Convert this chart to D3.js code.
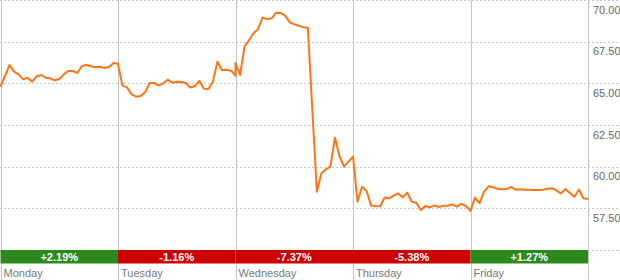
<!DOCTYPE html>
<html>
<head>
<meta charset="utf-8">
<script src="https://cdn.jsdelivr.net/npm/d3@7"></script>
<style>
  body { margin: 0; background: #fff; }
  svg { display: block; font-family: "Liberation Sans", Arial, sans-serif; }
</style>
</head>
<body>
<svg id="chart"></svg>
<script>
// weekly price chart, 15 minute steps, one array per trading day
const days = ["Monday", "Tuesday", "Wednesday", "Thursday", "Friday"];
const dayChange = ["+2.19%", "-1.16%", "-7.37%", "-5.38%", "+1.27%"];

const monday = [64.80, 65.44, 66.10, 65.70, 65.54, 65.24, 65.34, 65.10, 65.42, 65.50, 65.34, 65.30, 65.18, 65.26,
  65.54, 65.74, 65.74, 65.62, 66.04, 66.10, 66.02, 65.96, 66.00, 65.92, 65.98, 66.22, 66.18];
const tuesday = [66.14, 64.86, 64.76, 64.34, 64.20, 64.24, 64.46, 65.02, 65.02, 64.88, 65.00, 65.22, 65.04, 65.10,
  65.08, 65.02, 64.74, 64.84, 65.14, 64.68, 64.66, 65.10, 66.30, 65.80, 65.82, 65.76, 65.46];
const wednesday = [66.22, 65.50, 67.20, 67.60, 68.00, 68.26, 68.96, 68.84, 68.90, 69.24, 69.22, 69.06, 68.66, 68.54,
  68.46, 68.36, 68.34, 63.40, 58.50, 59.60, 59.84, 60.00, 61.74, 60.64, 60.00, 60.30, 60.60];
const thursday = [60.60, 57.90, 58.80, 58.54, 57.67, 57.64, 57.63, 58.15, 58.10, 58.26, 58.39, 58.17, 58.44, 57.89,
  57.83, 57.40, 57.64, 57.56, 57.68, 57.58, 57.65, 57.66, 57.74, 57.60, 57.78, 57.64, 57.35];
const friday = [57.37, 58.14, 57.80, 58.50, 58.82, 58.76, 58.68, 58.64, 58.66, 58.78, 58.62, 58.64, 58.62, 58.62,
  58.60, 58.60, 58.62, 58.68, 58.71, 58.58, 58.39, 58.66, 58.42, 58.19, 58.63, 58.10, 58.06];

const yTicks = [57.5, 60, 62.5, 65, 67.5, 70];
const yGrid = [55, 57.5, 60, 62.5, 65, 67.5, 70];

const W = 620, H = 280;
const stepsPerDay = 26;
const plotW = 587.5, plotH = 250;
const barH = 13.5;

const svg = d3.select("#chart")
    .attr("width", W)
    .attr("height", H);

// x is in 15 minute steps over the whole week
const x = d3.scaleLinear()
    .domain([0, stepsPerDay * days.length])
    .range([0.5, plotW + 0.5]);

const y = d3.scaleLinear()
    .domain([55, 70])
    .range([plotH, 0]);

// flatten days into one series, last point of a day sits on next day's open
let series = [];
[monday, tuesday, wednesday, thursday, friday].forEach((vals, d) => {
    vals.forEach((v, i) => series.push({t: d * stepsPerDay + i, v: v}));
});

// dotted horizontal grid
svg.append("g")
    .selectAll("line")
    .data(yGrid)
    .enter()
    .append("line")
    .attr("x1", 0)
    .attr("x2", W)
    .attr("y1", d => Math.round(y(d)) + 0.5)
    .attr("y2", d => Math.round(y(d)) + 0.5)
    .attr("stroke", "#c8c8c8")
    .attr("stroke-width", 1)
    .attr("stroke-dasharray", "2,2");

// day separators
const bounds = d3.range(days.length + 1).map(d => d * stepsPerDay);
svg.append("g")
    .selectAll("line")
    .data(bounds)
    .enter()
    .append("line")
    .attr("x1", d => Math.round(x(d)) + 0.5)
    .attr("x2", d => Math.round(x(d)) + 0.5)
    .attr("y1", 0)
    .attr("y2", H)
    .attr("stroke", "#c4c4c4")
    .attr("stroke-width", 1);

// y labels on the right
svg.append("g")
    .selectAll("text")
    .data(yTicks)
    .enter()
    .append("text")
    .attr("x", 593)
    .attr("y", d => y(d) + 13.5)
    .text(d => d3.format(".2f")(d))
    .attr("font-size", "11px")
    .attr("fill", "#666");

// price line
const lineFun = d3.line()
    .x(d => x(d.t))
    .y(d => y(d.v));

svg.append("path")
    .attr("d", lineFun(series))
    .attr("fill", "none")
    .attr("stroke", "#ff7516")
    .attr("stroke-width", 2)
    .attr("stroke-linejoin", "round");

// daily change bars
const bars = svg.append("g");
bars.selectAll("rect")
    .data(days)
    .enter()
    .append("rect")
    .attr("x", (d, i) => x(i * stepsPerDay))
    .attr("y", plotH)
    .attr("width", (d, i) => x((i + 1) * stepsPerDay) - x(i * stepsPerDay))
    .attr("height", barH)
    .attr("fill", (d, i) => {
        if (dayChange[i][0] === "+") {
            return "#2d891e";
        } else {
            return "#cc0000";
        }
    });
bars.selectAll("text")
    .data(dayChange)
    .enter()
    .append("text")
    .attr("x", (d, i) => x((i + 0.5) * stepsPerDay))
    .attr("y", plotH + 10.5)
    .attr("text-anchor", "middle")
    .attr("font-size", "11px")
    .attr("font-weight", "bold")
    .attr("fill", "#fff")
    .text(d => d);

// day names
svg.append("g")
    .selectAll("text")
    .data(days)
    .enter()
    .append("text")
    .attr("x", (d, i) => x(i * stepsPerDay) + 3)
    .attr("y", 277)
    .attr("font-size", "11px")
    .attr("fill", "#777")
    .text(d => d);
</script>
</body>
</html>
